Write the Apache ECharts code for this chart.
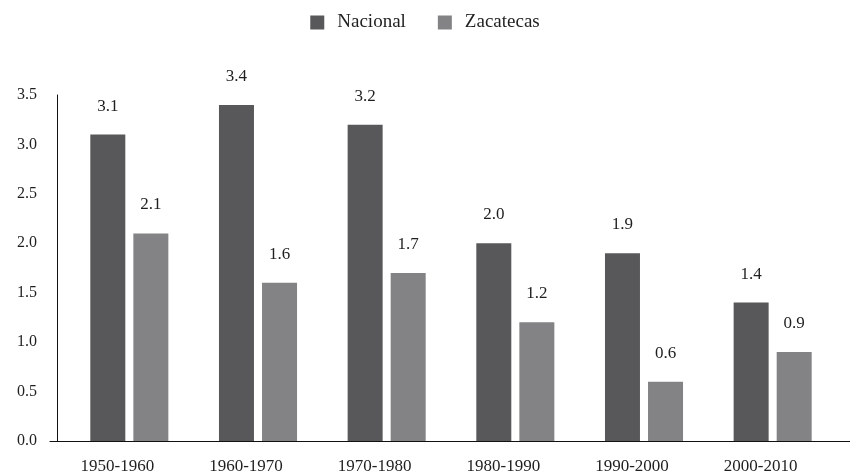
<!DOCTYPE html>
<html>
<head>
<meta charset="utf-8">
<script src="https://cdn.jsdelivr.net/npm/echarts@6/dist/echarts.min.js"></script>
<style>
  html, body { margin: 0; padding: 0; background: #ffffff; }
  #chart { width: 850px; height: 475px; }
</style>
</head>
<body>
<div id="chart"></div>
<script>
// Decades and average annual growth rates
const decades = ['1950-1960', '1960-1970', '1970-1980', '1980-1990', '1990-2000', '2000-2010'];
const nacional = [3.1, 3.4, 3.2, 2.0, 1.9, 1.4];
const zacatecas = [2.1, 1.6, 1.7, 1.2, 0.6, 0.9];
const yTicks = [0.0, 0.5, 1.0, 1.5, 2.0, 2.5, 3.0, 3.5];

const FONT = '"Liberation Serif", "DejaVu Serif", serif';
const TEXT = '#1f1f1f';

const chart = echarts.init(document.getElementById('chart'), null, { renderer: 'canvas' });

const labelStyle = {
  show: true,
  position: 'top',
  distance: 20,
  fontFamily: FONT,
  fontSize: 17,
  color: TEXT,
  formatter: p => p.value.toFixed(1)
};

chart.setOption({
  animation: false,
  backgroundColor: '#ffffff',
  legend: {
    top: 8,
    left: 'center',
    itemWidth: 14,
    itemHeight: 14,
    itemGap: 32,
    icon: 'rect',
    textStyle: { fontFamily: FONT, fontSize: 19, color: TEXT, padding: [0, 0, 0, 8] },
    data: ['Nacional', 'Zacatecas']
  },
  grid: [
    { left: 65, right: 13, top: 95, bottom: 34 },
    // wider baseline running under the whole plot
    { left: 50, right: 0, top: 95, bottom: 34 }
  ],
  xAxis: [
    {
      type: 'category',
      gridIndex: 0,
      data: decades,
      axisLine: { show: false },
      axisTick: { show: false },
      axisLabel: {
        fontFamily: FONT,
        fontSize: 17,
        color: TEXT,
        margin: 17,
        padding: [0, 24, 0, 0]
      }
    },
    {
      type: 'value',
      gridIndex: 1,
      min: 0,
      max: 1,
      axisLine: { show: true, lineStyle: { color: '#111111', width: 1 } },
      axisTick: { show: false },
      axisLabel: { show: false },
      splitLine: { show: false }
    }
  ],
  yAxis: [
    {
      type: 'value',
      gridIndex: 0,
      min: yTicks[0],
      max: yTicks[yTicks.length - 1],
      interval: 0.5,
      offset: 8,
      splitLine: { show: false },
      axisLine: { show: true, lineStyle: { color: '#111111', width: 1 } },
      axisTick: { show: false },
      axisLabel: {
        fontFamily: FONT,
        fontSize: 16,
        color: TEXT,
        margin: 20,
        formatter: v => v.toFixed(1)
      }
    },
    {
      type: 'value',
      gridIndex: 1,
      show: false
    }
  ],
  series: [
    {
      name: 'Nacional',
      type: 'bar',
      data: nacional,
      barWidth: 35,
      barGap: '23%',
      itemStyle: { color: '#58585a' },
      label: labelStyle
    },
    {
      name: 'Zacatecas',
      type: 'bar',
      data: zacatecas,
      barWidth: 35,
      itemStyle: { color: '#838386' },
      label: labelStyle
    }
  ]
});
</script>
</body>
</html>
